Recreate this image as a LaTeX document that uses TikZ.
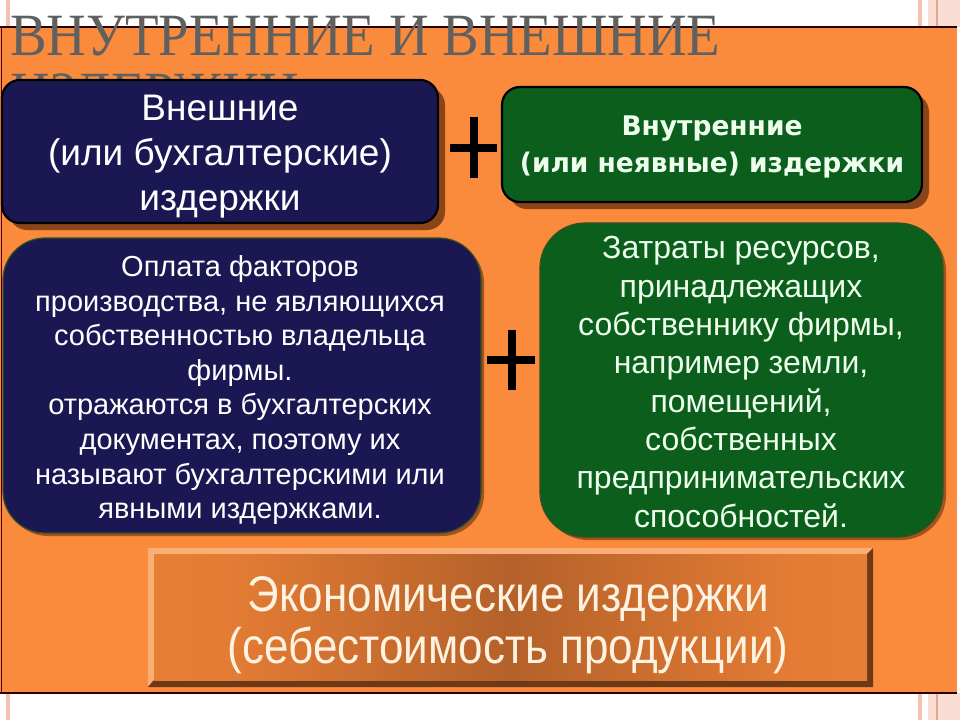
\documentclass[tikz,border=0pt]{standalone}
\usepackage{fontspec}
\setmainfont{Liberation Sans}
\newfontfamily\titlefont{Liberation Serif}
\newfontfamily\boldwide{DejaVu Sans}
\definecolor{bgorange}{HTML}{FA8A3C}
\definecolor{navybox}{HTML}{1B1752}
\definecolor{greenbox}{HTML}{0B5E1B}
\definecolor{shadowbrown}{HTML}{8A4418}
\definecolor{titlegrey}{HTML}{606060}
\definecolor{greentext}{HTML}{EEFFEE}
\definecolor{creamtext}{HTML}{FFF2E0}
\definecolor{pinkA}{HTML}{F4C0B0}
\definecolor{pinkB}{HTML}{F9DDD2}
\definecolor{pinkC}{HTML}{E3A592}
\definecolor{olive}{HTML}{34501E}
\definecolor{orA}{HTML}{F68C3E}
\definecolor{orB}{HTML}{E47C34}
\definecolor{brC}{HTML}{B4612A}
\pgfdeclarehorizontalshading{bottomshade}{100bp}{color(0bp)=(orA); color(30bp)=(orB); color(50bp)=(brC); color(70bp)=(orB); color(100bp)=(orA)}
\tikzset{
  topbox/.style={draw=black, line width=2.2pt, rounded corners=18pt},
  bigbox/.style={draw=olive, line width=1.2pt, rounded corners=42pt},
  boxshadow/.style={fill=shadowbrown, rounded corners=18pt},
  plussign/.style={line width=8pt, draw=black},
  whitetxt/.style={text=white, align=center, inner sep=0pt},
  greentxt/.style={text=greentext, align=center, inner sep=0pt},
  titletxt/.style={anchor=base west, inner sep=0pt, text=titlegrey, font=\titlefont\fontsize{60}{60}\selectfont, xscale=0.915},
}
\begin{document}
\begin{tikzpicture}[x=1pt,y=-1pt]
\useasboundingbox (0,0) rectangle (960,720);
\fill[white] (0,0) rectangle (960,720);
% decorative stripes
\fill[pinkA] (6,0) rectangle (10,27);
\fill[pinkA] (6,693) rectangle (10,720);
\fill[pinkA] (918,0) rectangle (922,27);
\fill[pinkA] (918,693) rectangle (922,720);
\fill[pinkB] (928,0) rectangle (960,27);
\fill[pinkB] (928,693) rectangle (960,720);
\fill[pinkC] (936,0) rectangle (937.5,27);
\fill[pinkC] (936,693) rectangle (937.5,720);
% orange panel
\fill[bgorange] (0,27) rectangle (957,693);
\draw[line width=1.5pt, black!85!red] (0,27) -- (957,27);
\draw[line width=1.5pt, black!85!red] (0,693) -- (957,693);
\draw[line width=1pt, black!70!red] (1,27) -- (1,693);
% title
\node[titletxt] (title1) at (10,55) {ВНУТРЕННИЕ И ВНЕШНИЕ};
\node[titletxt] (title2) at (10,113) {ИЗДЕРЖКИ};
% top left box
\fill[boxshadow] (9,87) rectangle (445,230);
\draw[topbox, fill=navybox] (2,80) rectangle (438,223);
\node[whitetxt, font=\fontsize{37}{45}\selectfont] (ext) at (220,157) {Внешние\\(или бухгалтерские)\\издержки};
% top right box
\fill[boxshadow] (509,94) rectangle (929,209);
\draw[topbox, fill=greenbox] (502,87) rectangle (922,202);
\node[greentxt, font=\boldwide\bfseries\fontsize{27}{37}\selectfont, xscale=0.98] (int) at (712,147) {Внутренние\\(или неявные) издержки};
% plus signs
\draw[plussign] (450,148) -- (497,148);
\draw[plussign] (473.5,117) -- (473.5,178);
\draw[plussign] (487,360) -- (535,360);
\draw[plussign] (512,330) -- (512,390);
% middle left box
\fill[shadowbrown!80!bgorange, rounded corners=42pt] (6,241) rectangle (484,536);
\draw[bigbox, fill=navybox] (3,238) rectangle (481,533);
\node[whitetxt, font=\fontsize{29}{34.6}\selectfont] (extdesc) at (240,390) {Оплата факторов\\производства, не являющихся\\собственностью владельца\\фирмы.\\отражаются в бухгалтерских\\документах, поэтому их\\называют бухгалтерскими или\\явными издержками.};
% middle right box
\fill[shadowbrown!80!bgorange, rounded corners=45pt] (543,226) rectangle (946,540);
\draw[bigbox, rounded corners=45pt, fill=greenbox] (540,223) rectangle (943,537);
\node[greentxt, font=\fontsize{32}{38.3}\selectfont] (intdesc) at (741,382) {Затраты ресурсов,\\принадлежащих\\собственнику фирмы,\\например земли,\\помещений,\\собственных\\предпринимательских\\способностей.};
% bottom box
\fill[brC!80!black] (148,548) rectangle (873,687);
\fill[orA!70!white] (148,548) -- (873,548) -- (867,554) -- (154,554) -- (154,680) -- (148,687) -- cycle;
\fill[brC!60!black] (873,548) -- (873,687) -- (148,687) -- (154,680) -- (867,680) -- (867,554) -- cycle;
\shade[shading=bottomshade] (154,554) rectangle (867,680);
\node[text=creamtext, align=center, inner sep=0pt, font=\fontsize{50}{52}\selectfont, xscale=0.88] (econ) at (508,625) {Экономические издержки\\(себестоимость продукции)};
\end{tikzpicture}
\end{document}
